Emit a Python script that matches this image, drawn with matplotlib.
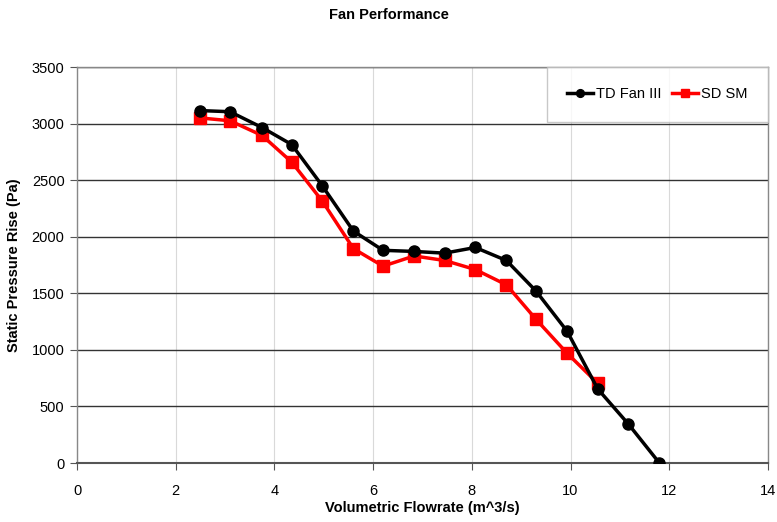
import matplotlib
matplotlib.use("Agg")
import matplotlib.pyplot as plt

plt.rcParams["font.family"] = ["Liberation Sans", "DejaVu Sans"]

flow_td = [2.5, 3.1, 3.75, 4.35, 4.97, 5.6, 6.2, 6.83, 7.45, 8.07, 8.7, 9.3, 9.93, 10.55, 11.17, 11.8]
pressure_td = [3115, 3105, 2965, 2815, 2450, 2050, 1880, 1870, 1855, 1905, 1790, 1520, 1165, 655, 345, 0]

flow_sd = [2.5, 3.1, 3.75, 4.35, 4.97, 5.6, 6.2, 6.83, 7.45, 8.07, 8.7, 9.3, 9.93, 10.55]
pressure_sd = [3050, 3025, 2895, 2660, 2315, 1895, 1740, 1830, 1790, 1710, 1575, 1270, 970, 705]

x_ticks = [0, 2, 4, 6, 8, 10, 12, 14]
y_ticks = [0, 500, 1000, 1500, 2000, 2500, 3000, 3500]

fig = plt.figure(figsize=(7.77, 5.22), dpi=100)
ax = fig.add_axes([0.0991, 0.113, 0.8893, 0.7586])

ax.plot(flow_td, pressure_td, color="black", lw=2.5, marker="o", ms=8, label="TD Fan III", zorder=4)
ax.plot(flow_sd, pressure_sd, color="#ff0000", lw=2.5, marker="s", ms=8, label="SD SM", zorder=3)

ax.set_xlim(0, 14)
ax.set_ylim(0, 3500)
ax.set_xticks(x_ticks)
ax.set_yticks(y_ticks)
ax.xaxis.grid(True, color="#d9d9d9", lw=0.8)
ax.yaxis.grid(True, color="#333333", lw=1.0)
ax.set_axisbelow(True)
for s in ax.spines.values():
    s.set_color("#888888")
    s.set_linewidth(1.0)
ax.spines["bottom"].set_color("#555555")
ax.spines["bottom"].set_linewidth(1.5)
ax.tick_params(direction="out", length=5, color="#555555", labelsize=10.5)
ax.tick_params(axis="x", pad=10)
ax.tick_params(axis="y", pad=4)

ax.set_xlabel("Volumetric Flowrate (m^3/s)", fontsize=10.5, fontweight="bold", labelpad=2)
ax.set_ylabel("Static Pressure Rise (Pa)", fontsize=10.5, fontweight="bold", labelpad=8)
fig.suptitle("Fan Performance", fontsize=10.5, fontweight="bold", y=0.985)

leg = ax.legend(loc="upper right", ncol=2, fontsize=10.5, frameon=True, fancybox=False,
                borderaxespad=0.0, handlelength=1.8, handletextpad=0.2, columnspacing=0.7,
                borderpad=1.4, markerscale=0.7)
leg.get_frame().set_edgecolor("#bbbbbb")
leg.get_frame().set_linewidth(1.0)

fig.savefig("out.png", dpi=100)
